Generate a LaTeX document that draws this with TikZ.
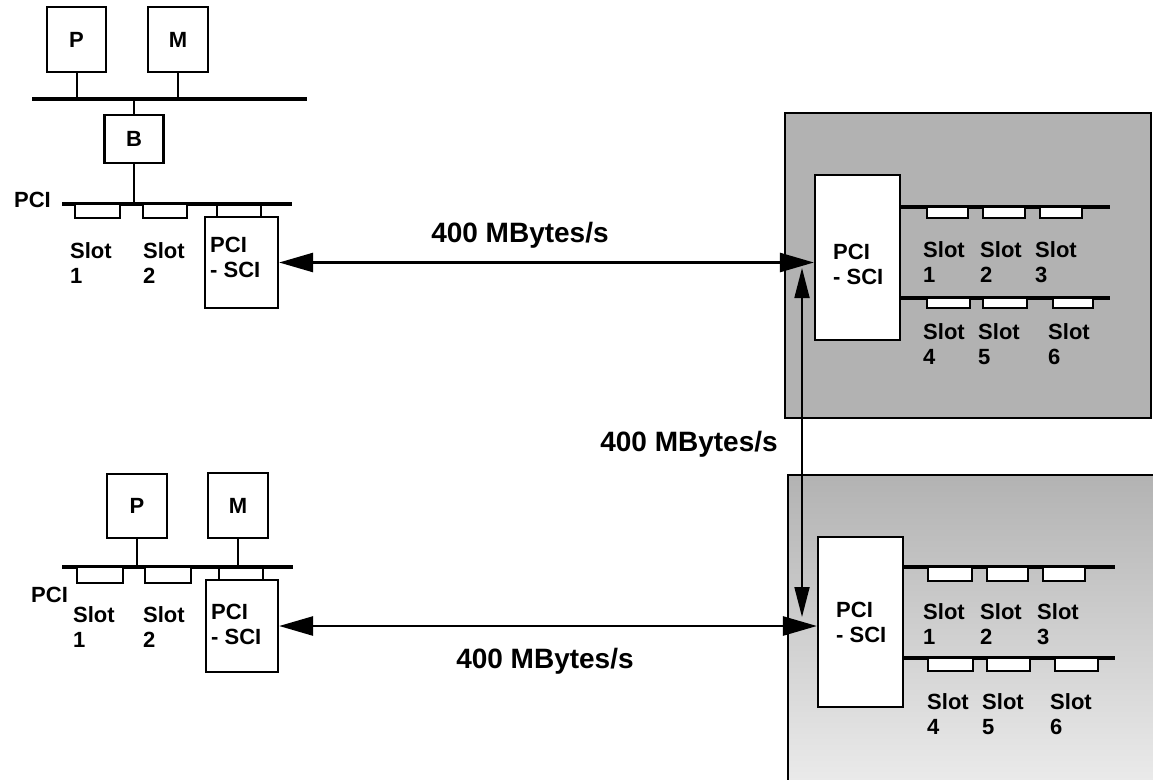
\documentclass[tikz,border=0pt]{standalone}
\usepackage{fontspec}
\setmainfont{Liberation Sans}
\usetikzlibrary{arrows.meta}
\usetikzlibrary{positioning}

\tikzset{
  unit/.style={draw, line width=2.2pt, fill=white, inner sep=0pt, font={\fontsize{22}{26}\selectfont\bfseries}},
  busline/.style={line width=3.4pt},
  stub/.style={line width=2pt},
  slotbox/.style={draw, line width=2pt, fill=white},
  lbl/.style={font={\fontsize{22}{25}\selectfont\bfseries}, align=left, anchor=west, inner sep=0pt},
  rate/.style={font={\fontsize{28}{30}\selectfont\bfseries}, inner sep=0pt},
  link/.style={line width=2.6pt, {Triangle[length=34pt,width=19pt]}-{Triangle[length=34pt,width=19pt]}},
  vlink/.style={line width=1.8pt, {Triangle[length=30pt,width=15pt]}-{Triangle[length=30pt,width=15pt]}},
  cabinet/.style={draw, line width=2.4pt},
}

\begin{document}
\begin{tikzpicture}[x=1pt, y=-1pt]
    \useasboundingbox (0,0) rectangle (1153,779);

    % shaded cabinets
    \draw[cabinet, fill=gray!60] (785,113) rectangle (1151,418);
    \draw[cabinet, top color=gray!60, bottom color=gray!15] (788,475) rectangle (1165,790);

    % upper host
    \node[unit, minimum width=59, minimum height=65] (procA) at (76.5,39.5) {P};
    \node[unit, minimum width=60, minimum height=65] (memA) at (178,39.5) {M};
    \coordinate (busAw) at (32,99);
    \coordinate (busAe) at (307,99);
    \draw[busline] (busAw) -- (busAe);
    \draw[stub] (procA.south) -- (procA.south |- busAw);
    \draw[stub] (memA.south) -- (memA.south |- busAw);
    \node[unit, minimum width=59, minimum height=48] (bridgeA) at (134,139) {B};
    \draw[stub] (bridgeA.north) -- (bridgeA.north |- busAw);
    \coordinate (pciAw) at (62,204);
    \coordinate (pciAe) at (292,204);
    \draw[busline] (pciAw) -- (pciAe);
    \draw[stub] (bridgeA.south) -- (bridgeA.south |- pciAw);
    \node[lbl, anchor=east] (pciAlbl) at (51,200) {PCI};
    \foreach \a/\b in {75/120, 143/187}
        \draw[slotbox] (\a,204) rectangle (\b,218);
    \node[unit, minimum width=73, minimum height=91] (adapterA) at (241.5,262.5) {};
    \draw[stub] ([xshift=13pt]adapterA.north west) -- ([xshift=13pt]adapterA.north west |- pciAw);
    \draw[stub] ([xshift=-18pt]adapterA.north east) -- ([xshift=-18pt]adapterA.north east |- pciAw);
    \node[lbl] (adapterAtxt) at (210,257) {PCI\\- SCI};
    \node[lbl] (slotA1) at (70,263) {Slot\\1};
    \node[lbl] (slotA2) at (143,263) {Slot\\2};

    % lower host
    \node[unit, minimum width=60, minimum height=64] (procC) at (137,506) {P};
    \node[unit, minimum width=60, minimum height=65] (memC) at (238,505.5) {M};
    \coordinate (pciCw) at (62,567);
    \coordinate (pciCe) at (293,567);
    \draw[busline] (pciCw) -- (pciCe);
    \draw[stub] (procC.south) -- (procC.south |- pciCw);
    \draw[stub] (memC.south) -- (memC.south |- pciCw);
    \node[lbl] (pciClbl) at (31,595) {PCI};
    \foreach \a/\b in {77/123, 145/191}
        \draw[slotbox] (\a,567) rectangle (\b,583);
    \node[unit, minimum width=72, minimum height=92] (adapterC) at (242,626) {};
    \draw[stub] ([xshift=14pt]adapterC.north west) -- ([xshift=14pt]adapterC.north west |- pciCw);
    \draw[stub] ([xshift=-16pt]adapterC.north east) -- ([xshift=-16pt]adapterC.north east |- pciCw);
    \node[lbl] (adapterCtxt) at (211,624) {PCI\\- SCI};
    \node[lbl] (slotC1) at (73,627) {Slot\\1};
    \node[lbl] (slotC2) at (143,627) {Slot\\2};

    % upper cabinet
    \node[unit, minimum width=85, minimum height=165] (adapterB) at (857.5,257.5) {};
    \coordinate (pciBu) at (1110,207);
    \coordinate (pciBl) at (1110,298);
    \draw[busline] (adapterB.east |- pciBu) -- (pciBu);
    \draw[busline] (adapterB.east |- pciBl) -- (pciBl);
    \foreach \a/\b in {927/968, 983/1025, 1040/1082}
        \draw[slotbox] (\a,207) rectangle (\b,218);
    \foreach \a/\b in {927/970, 983/1027, 1053/1093}
        \draw[slotbox] (\a,298) rectangle (\b,308);
    \node[lbl] (adapterBtxt) at (833,264) {PCI\\- SCI};
    \node[lbl] (slotB1) at (923,262) {Slot\\1};
    \node[lbl] (slotB2) at (980,262) {Slot\\2};
    \node[lbl] (slotB3) at (1035,262) {Slot\\3};
    \node[lbl] (slotB4) at (923,344) {Slot\\4};
    \node[lbl] (slotB5) at (978,344) {Slot\\5};
    \node[lbl] (slotB6) at (1048,344) {Slot\\6};

    % lower cabinet
    \node[unit, minimum width=85, minimum height=170] (adapterD) at (860.5,622) {};
    \coordinate (pciDu) at (1115,567);
    \coordinate (pciDl) at (1115,658);
    \draw[busline] (adapterD.east |- pciDu) -- (pciDu);
    \draw[busline] (adapterD.east |- pciDl) -- (pciDl);
    \foreach \a/\b in {928/972, 987/1028, 1043/1085}
        \draw[slotbox] (\a,567) rectangle (\b,581);
    \foreach \a/\b in {928/973, 987/1030, 1055/1098}
        \draw[slotbox] (\a,658) rectangle (\b,671);
    \node[lbl] (adapterDtxt) at (836,622) {PCI\\- SCI};
    \node[lbl] (slotD1) at (923,624) {Slot\\1};
    \node[lbl] (slotD2) at (980,624) {Slot\\2};
    \node[lbl] (slotD3) at (1037,624) {Slot\\3};
    \node[lbl] (slotD4) at (927,714) {Slot\\4};
    \node[lbl] (slotD5) at (982,714) {Slot\\5};
    \node[lbl] (slotD6) at (1050,714) {Slot\\6};

    % links
    \coordinate (ringTop) at (802,268);
    \coordinate (ringBot) at (802,617);
    \draw[link] (adapterA.east) -- (adapterA.east -| adapterB.west);
    \draw[link] (adapterC.east) -- (adapterC.east -| adapterD.west);
    \draw[vlink] (ringTop) -- (ringBot);
    \node[rate] (rateTop) at (520,235) {400 MBytes/s};
    \node[rate] (rateMid) at (689,444) {400 MBytes/s};
    \node[rate] (rateBot) at (545,661) {400 MBytes/s};
\end{tikzpicture}
\end{document}
